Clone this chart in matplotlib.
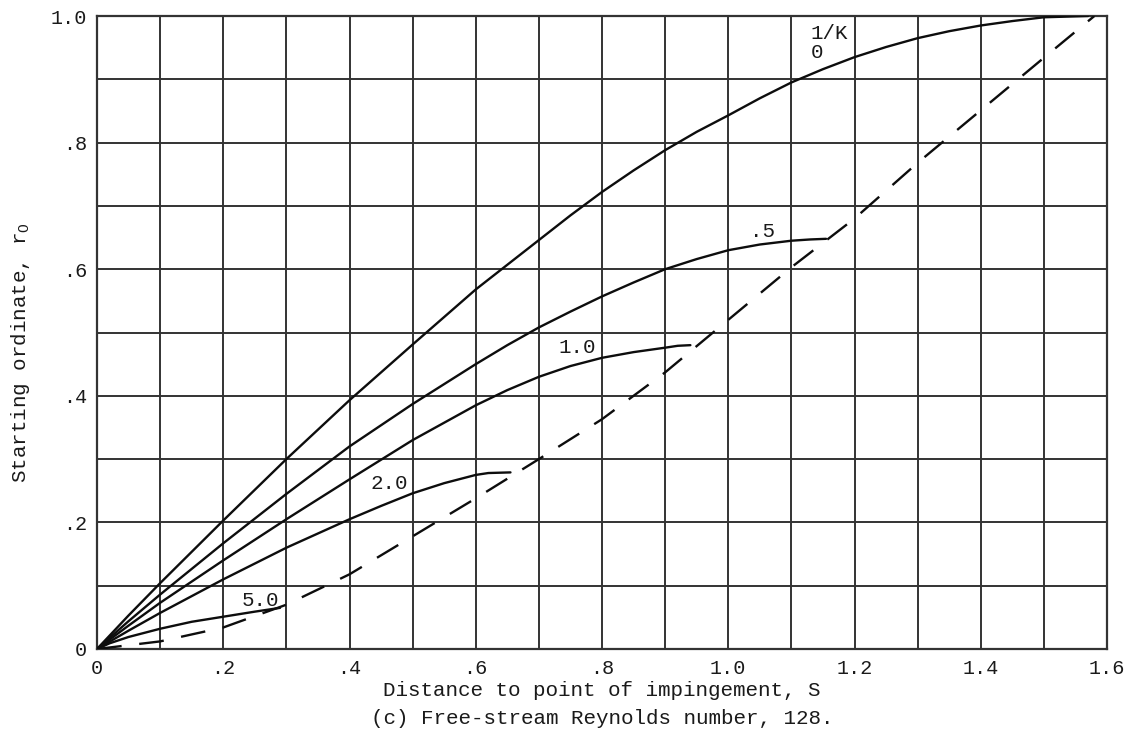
import matplotlib
matplotlib.use("Agg")
import matplotlib.pyplot as plt
import numpy as np

# ---- data ----
s_k0 = [0, 0.05, 0.1, 0.2, 0.3, 0.4, 0.5, 0.6, 0.7, 0.75, 0.8, 0.85, 0.9, 0.95, 1.0, 1.05,
        1.1, 1.15, 1.2, 1.25, 1.3, 1.35, 1.4, 1.45, 1.5, 1.57]
r_k0 = [0, 0.053, 0.104, 0.203, 0.300, 0.393, 0.481, 0.568, 0.646, 0.685, 0.722, 0.756, 0.788, 0.817, 0.843, 0.870,
        0.895, 0.916, 0.935, 0.951, 0.965, 0.976, 0.985, 0.992, 0.998, 1.0]

s_k05 = [0, 0.05, 0.1, 0.2, 0.3, 0.4, 0.5, 0.6, 0.65, 0.7, 0.75, 0.8, 0.85, 0.9, 0.95, 1.0, 1.05, 1.1, 1.13, 1.155]
r_k05 = [0, 0.044, 0.086, 0.167, 0.245, 0.320, 0.387, 0.450, 0.480, 0.508, 0.533, 0.557, 0.579, 0.600, 0.616, 0.630, 0.639, 0.645, 0.647, 0.648]

s_k1 = [0, 0.05, 0.1, 0.2, 0.3, 0.4, 0.5, 0.6, 0.65, 0.7, 0.75, 0.8, 0.85, 0.9, 0.92, 0.94]
r_k1 = [0, 0.037, 0.073, 0.140, 0.205, 0.268, 0.330, 0.385, 0.409, 0.430, 0.447, 0.460, 0.469, 0.476, 0.479, 0.480]

s_k2 = [0, 0.05, 0.1, 0.2, 0.3, 0.4, 0.45, 0.5, 0.55, 0.6, 0.62, 0.655]
r_k2 = [0, 0.029, 0.057, 0.110, 0.160, 0.205, 0.226, 0.246, 0.262, 0.275, 0.278, 0.279]

s_k5 = [0, 0.02, 0.05, 0.1, 0.15, 0.2, 0.25, 0.29]
r_k5 = [0, 0.009, 0.019, 0.032, 0.043, 0.051, 0.059, 0.065]

s_env = [0, 0.1, 0.2, 0.3, 0.4, 0.5, 0.6, 0.7, 0.8, 0.9, 1.0, 1.1, 1.2, 1.3, 1.4, 1.5, 1.58]
r_env = [0, 0.012, 0.034, 0.070, 0.118, 0.178, 0.238, 0.300, 0.363, 0.437, 0.520, 0.603, 0.680, 0.768, 0.851, 0.934, 1.0]

xtick_vals = [0, 0.2, 0.4, 0.6, 0.8, 1.0, 1.2, 1.4, 1.6]
xtick_labels = ["0", ".2", ".4", ".6", ".8", "1.0", "1.2", "1.4", "1.6"]
ytick_vals = [0, 0.2, 0.4, 0.6, 0.8, 1.0]
ytick_labels = ["0", ".2", ".4", ".6", ".8", "1.0"]

curve_labels = ["0", ".5", "1.0", "2.0", "5.0"]
label_pos = [(1.13, 0.942), (1.035, 0.659), (0.731, 0.477), (0.434, 0.261), (0.229, 0.077)]

FONT = "Liberation Mono"
plt.rcParams["font.family"] = [FONT, "DejaVu Sans Mono"]
plt.rcParams["mathtext.fontset"] = "custom"
plt.rcParams["mathtext.rm"] = FONT

fig = plt.figure(figsize=(11.3, 7.51), dpi=100)
ax = fig.add_axes([97/1130, 1-649/751, (1107-97)/1130, (649-16)/751])

ax.set_xlim(0, 1.6)
ax.set_ylim(0, 1.0)

gc = "#333333"
tc = "#1a1a1a"
ax.set_xticks(xtick_vals, labels=xtick_labels)
ax.set_xticks(np.arange(0, 1.61, 0.1), minor=True)
ax.set_yticks(ytick_vals, labels=ytick_labels)
ax.set_yticks(np.arange(0, 1.01, 0.1), minor=True)
ax.grid(True, which="both", color=gc, lw=1.4)
ax.set_axisbelow(True)
ax.tick_params(which="both", length=0, labelcolor=tc)
ax.tick_params(axis="x", pad=7, labelsize=14.5)
ax.tick_params(axis="y", pad=7, labelsize=14.5)
for sp in ax.spines.values():
    sp.set_color(gc)
    sp.set_linewidth(1.6)

lc = "#0d0d0d"
for s, r in [(s_k0, r_k0), (s_k05, r_k05), (s_k1, r_k1), (s_k2, r_k2), (s_k5, r_k5)]:
    ax.plot(s, r, color=lc, lw=1.7, solid_capstyle="round", solid_joinstyle="round", zorder=3)
ax.plot(s_env, r_env, color=lc, lw=1.7, ls=(0, (10.5, 7.5)), zorder=3)

for txt, (x, y) in zip(curve_labels, label_pos):
    ax.text(x, y, txt, ha="left", va="center", fontsize=15, color=tc, zorder=4)
ax.text(1.13, 0.973, "1/K", ha="left", va="center", fontsize=15, color=tc, zorder=4)

fig.text(602/1130, 1-690/751, "Distance to point of impingement, S", ha="center", va="center", fontsize=15, color=tc)
fig.text(602/1130, 1-719/751, "(c) Free-stream Reynolds number, 128.", ha="center", va="center", fontsize=15, color=tc)
fig.text(21/1130, 1-353/751, r"Starting ordinate, $\mathregular{r_O}$", rotation=90, ha="center", va="center", fontsize=15, color=tc)

fig.savefig("out.png", dpi=100, facecolor="white")
